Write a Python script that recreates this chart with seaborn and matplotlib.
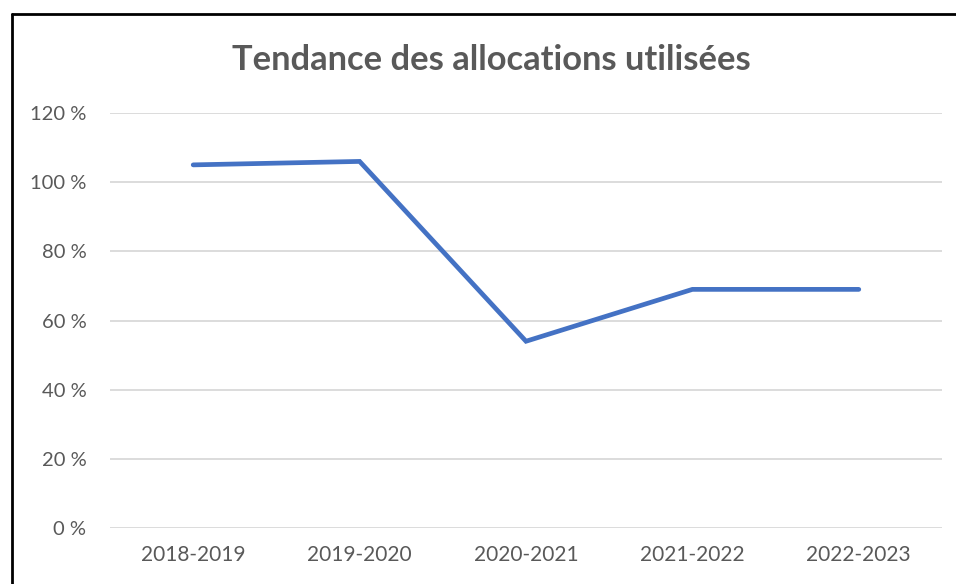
import matplotlib
matplotlib.use("Agg")
import matplotlib.pyplot as plt
import seaborn as sns
import pandas as pd
from matplotlib.ticker import FuncFormatter
from matplotlib.lines import Line2D

# Data
years = ["2018-2019", "2019-2020", "2020-2021", "2021-2022", "2022-2023"]
allocations = [105, 106, 54, 69, 69]
y_ticks = [0, 20, 40, 60, 80, 100, 120]

df = pd.DataFrame({"annee": years, "allocation": allocations})

sns.set_style("white")
plt.rcParams['font.family'] = ['Lato', 'DejaVu Sans']

text_grey = "#595959"

fig = plt.figure(figsize=(9.56, 5.84), dpi=100)
ax = fig.add_axes([110 / 956, (584 - 528) / 584, 832 / 956, 415 / 584])

sns.lineplot(data=df, x="annee", y="allocation", ax=ax, color="#4472C4",
             linewidth=3.4, solid_capstyle="round", solid_joinstyle="miter",
             sort=False)

ax.set_xlim(-0.5, len(years) - 0.5)
ax.set_ylim(0, 120)
ax.set_yticks(y_ticks)
ax.yaxis.set_major_formatter(FuncFormatter(lambda v, p: f"{v:.0f}\u00a0%"))
ax.grid(axis="y", color="#d9d9d9", linewidth=1.3)
ax.set_axisbelow(True)
for s in ax.spines.values():
    s.set_visible(False)
ax.tick_params(axis="both", length=0, colors=text_grey)
ax.tick_params(axis="y", pad=17, labelsize=14.5)
ax.tick_params(axis="x", pad=12.5, labelsize=15)
ax.set_xlabel("")
ax.set_ylabel("")

fig.text(491 / 956, 1 - 60 / 584, "Tendance des allocations utilisées",
         ha="center", va="center", fontsize=24.8, fontweight="bold", color=text_grey)

# outer frame (only top and left edges visible)
fig.add_artist(Line2D([11.5 / 956, 11.5 / 956], [0, 1 - 13.5 / 584],
                      transform=fig.transFigure, color="black", linewidth=2))
fig.add_artist(Line2D([11.5 / 956, 1], [1 - 13.5 / 584, 1 - 13.5 / 584],
                      transform=fig.transFigure, color="black", linewidth=2))

fig.savefig("out.png", dpi=100)
